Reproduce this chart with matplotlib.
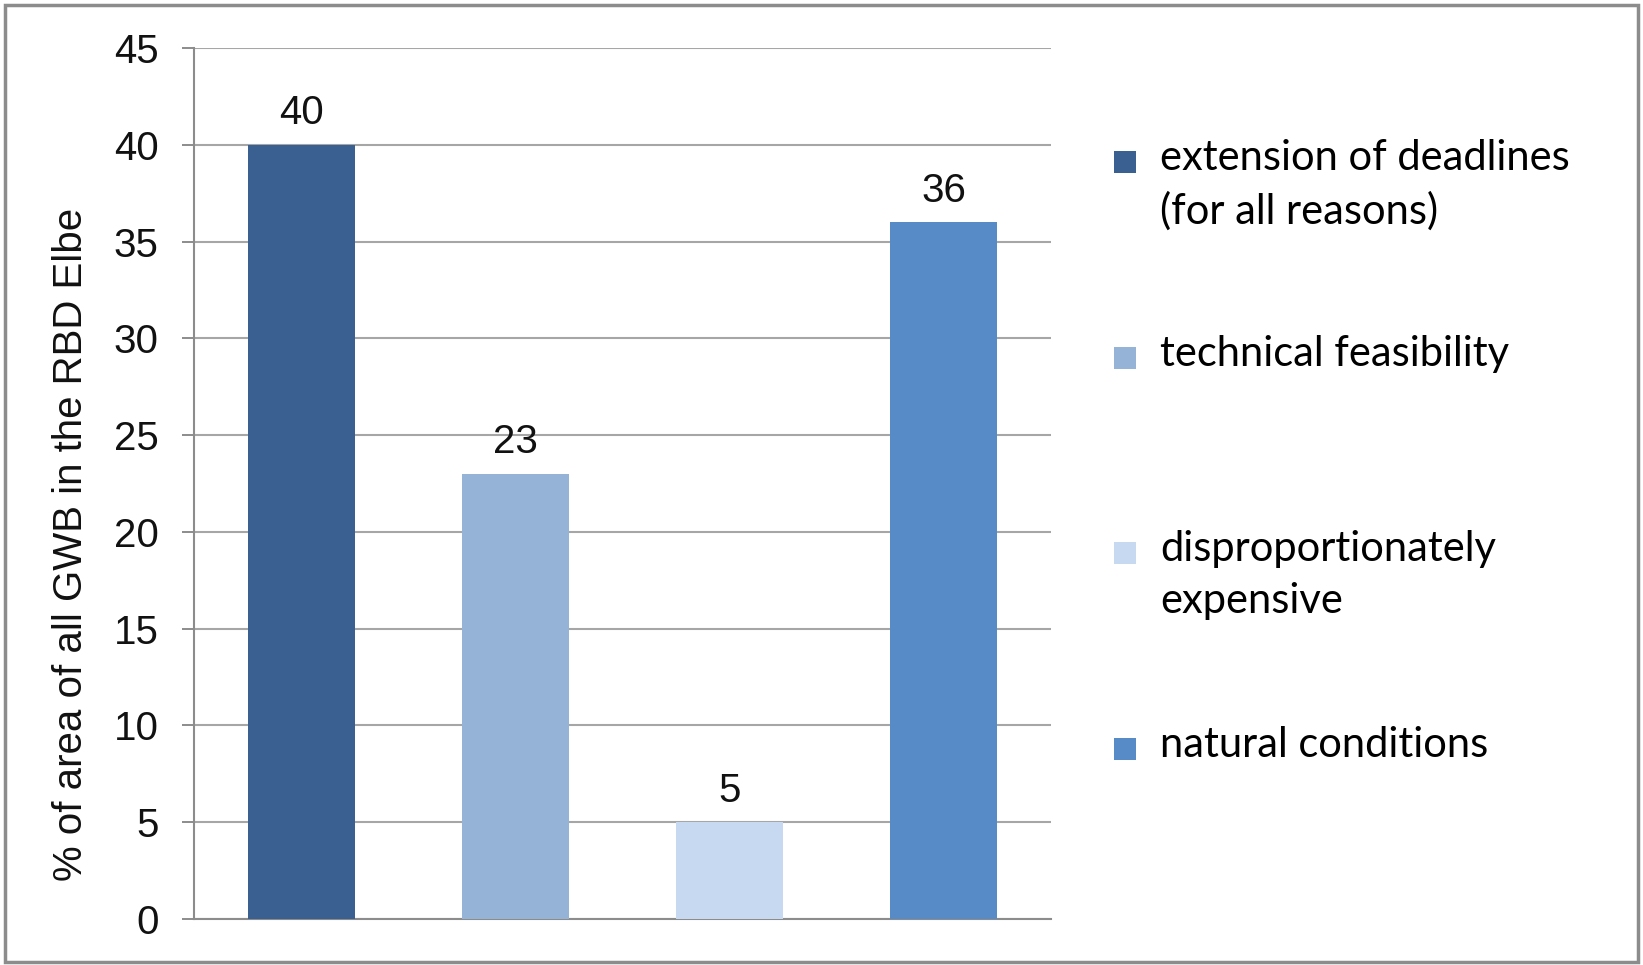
import matplotlib
matplotlib.use("Agg")
import matplotlib.pyplot as plt
from matplotlib.patches import Rectangle

categories = ["extension of deadlines\n(for all reasons)",
              "technical feasibility",
              "disproportionately\nexpensive",
              "natural conditions"]
values = [40, 23, 5, 36]
colors = ["#3A6091", "#95B3D7", "#C6D9F0", "#568BC8"]
yticks = [0, 5, 10, 15, 20, 25, 30, 35, 40, 45]
yLabel = "% of area of all GWB in the RBD Elbe"

W, H = 1643, 965
fig = plt.figure(figsize=(W / 100, H / 100), dpi=100)

# axes placed in pixel terms of the reference
left, right, bottom, top = 194, 1051, 919, 48
ax = fig.add_axes([left / W, 1 - bottom / H, (right - left) / W, (bottom - top) / H])

xs = list(range(len(values)))
ax.bar(xs, values, width=0.5, color=colors, zorder=3)
for x, v in zip(xs, values):
    ax.annotate(str(v), (x, v), xytext=(0, 9), textcoords="offset points",
                ha="center", va="bottom", fontsize=29, family="Liberation Sans",
                color="#111111", zorder=4)

ax.set_xlim(-0.5, 3.5)
ax.set_ylim(0, 45)
ax.set_yticks(yticks)
ax.set_yticklabels([str(t) for t in yticks], fontsize=29, family="Liberation Sans", color="#111111")
ax.set_xticks([])
ax.tick_params(axis="y", length=8.6, width=1.4, color="#8C8C8C", pad=17)
ax.yaxis.grid(True, color="#A6A6A6", linewidth=1.5, zorder=0)
ax.set_axisbelow(True)
for s in ["top", "right"]:
    ax.spines[s].set_visible(False)
for s in ["left", "bottom"]:
    ax.spines[s].set_color("#8C8C8C")
    ax.spines[s].set_linewidth(1.5)

ax.set_ylabel(yLabel, fontsize=29, family="Liberation Sans", color="#111111")
ax.yaxis.set_label_coords(-0.121, 0.43)

# legend drawn by hand: squares evenly spaced, text aligned to square
sq = 22
y0 = 162
step = 195.7
fs = 30
em = fs * 100 / 72
for i, (lab, c) in enumerate(zip(categories, colors)):
    cy = y0 + i * step
    fig.add_artist(Rectangle((1114 / W, 1 - (cy + sq / 2) / H), sq / W, sq / H,
                             transform=fig.transFigure, facecolor=c, edgecolor="none"))
    fig.text(1160 / W, 1 - (cy + 14 - 0.89 * em) / H, lab, fontsize=fs, family="Lato",
             ha="left", va="top", linespacing=1.45, color="#000000")

# outer frame
fig.add_artist(Rectangle((5 / W, 1 - 962 / H), (1638 - 5) / W, (962 - 5) / H,
                         transform=fig.transFigure, facecolor="none",
                         edgecolor="#8C8C8C", linewidth=2.5))

fig.savefig("out.png", dpi=100)
